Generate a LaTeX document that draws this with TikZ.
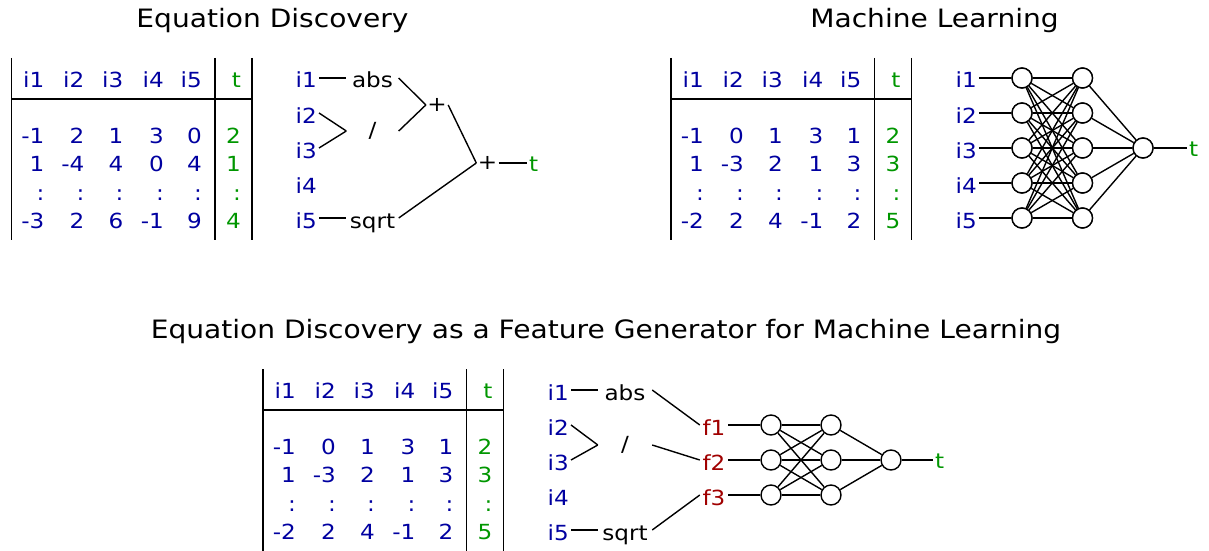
\documentclass[tikz,border=0pt]{standalone}
\usepackage{fontspec}
\setmainfont{DejaVu Sans}[FakeStretch=1.11]
\definecolor{inblue}{RGB}{0,0,160}
\definecolor{outgreen}{RGB}{0,150,0}
\definecolor{featred}{RGB}{160,0,0}
\newcommand{\txtfont}{\fontsize{20.8}{24}\selectfont}
\newcommand{\ttlfont}{\fontsize{25.3}{30}\selectfont}
\tikzset{
  rule/.style={line width=1.5pt},
  wire/.style={line width=1.4pt},
  cell/.style={anchor=base east, inner sep=0pt, font=\txtfont},
  lbl/.style={font=\txtfont, inner xsep=2pt, inner ysep=0pt, text height=20pt, text depth=0pt},
  inp/.style={lbl, anchor=east, text=inblue},
  outp/.style={lbl, anchor=west, text=outgreen, text height=16.5pt},
  op/.style={lbl, minimum width=52pt},
  feat/.style={lbl, minimum width=28pt, text=featred},
  sym/.style={font=\txtfont, inner sep=0pt, minimum width=22pt},
  neuron/.style={circle, draw, fill=white, line width=1.4pt, minimum size=20pt, inner sep=0pt},
  ttl/.style={font=\ttlfont, anchor=base, inner sep=0pt}
}
% data table: #1 name prefix, #2 rows (header first); #3 bottom of the rules
\newcommand{\drawdatatable}[3]{%
  \foreach \row [count=\r] in {#2} {
    \pgfmathsetmacro\by{{87,143,171.5,200,228.5}[\r-1]}
    \foreach \v [count=\c] in \row {
      \pgfmathsetmacro\bx{{44.5,84.5,123.5,164,202,241}[\c-1]}
      \ifnum\c=6 \def\cc{outgreen}\else\def\cc{inblue}\fi
      \node[cell, text=\cc] (#1-\r-\c) at (\bx,\by) {\v};
    }
  }
  \draw[rule] (11.7,58) -- (11.7,#3);
  \draw[rule] (215,58) -- (215,#3);
  \draw[rule] (252,58) -- (252,#3);
  \draw[rule] (11.7,99) -- (252,99);
}
\begin{document}
\begin{tikzpicture}[x=1pt, y=-1pt]
\useasboundingbox (0,0) rectangle (1209,551);

% ---------- Equation discovery ----------
\node[ttl] (title1) at (272.5,28) {Equation Discovery};
\drawdatatable{ta}{{i1,i2,i3,i4,i5,t},{-1,2,1,3,0,2},{1,-4,4,0,4,1},{:,:,:,:,:,:},{-3,2,6,-1,9,4}}{240}

\node[inp] (ea1) at (319,78) {i1};
\node[inp] (ea2) at (319,113) {i2};
\node[inp] (ea3) at (319,148) {i3};
\node[inp] (ea4) at (319,183) {i4};
\node[inp] (ea5) at (319,218) {i5};
\node[op] (eabs) at (372.5,78) {abs};
\node[sym, minimum width=52pt] (ediv) at (372.5,131) {/};
\node[op] (esqrt) at (372.5,218) {sqrt};
\node[sym] (eplus1) at (437,105) {+};
\node[sym] (eplus2) at (487.5,163) {+};
\node[outp] (et) at (527,163) {t};
\draw[wire] (ea1.east) -- (eabs.west);
\draw[wire] (ea2.east) -- (ediv.west);
\draw[wire] (ea3.east) -- (ediv.west);
\draw[wire] (ea5.east) -- (esqrt.west);
\draw[wire] (eabs.east) -- (eplus1.west);
\draw[wire] (ediv.east) -- (eplus1.west);
\draw[wire] (eplus1.east) -- (eplus2.west);
\draw[wire] (esqrt.east) -- (eplus2.west);
\draw[wire] (eplus2.east) -- (et.west);

% ---------- Machine learning ----------
\node[ttl] (title2) at (934.5,28) {Machine Learning};
\begin{scope}[shift={(659.5,0)}]
\drawdatatable{tb}{{i1,i2,i3,i4,i5,t},{-1,0,1,3,1,2},{1,-3,2,1,3,3},{:,:,:,:,:,:},{-2,2,4,-1,2,5}}{240}
\end{scope}

\foreach \k/\y in {1/78,2/113,3/148,4/183,5/218} {
  \node[inp] (ma\k) at (979,\y) {i\k};
  \node[neuron] (mh\k) at (1022,\y) {};
  \node[neuron] (mg\k) at (1082.5,\y) {};
}
\node[neuron] (mo) at (1143,148) {};
\node[outp] (mt) at (1187,148) {t};
\foreach \j in {1,...,5} {
  \draw[wire] (ma\j.east) -- (mh\j);
  \foreach \k in {1,...,5} { \draw[wire] (mh\j) -- (mg\k); }
  \draw[wire] (mg\j) -- (mo);
}
\draw[wire] (mo) -- (mt.west);
\foreach \j in {1,...,5} {
  \node[neuron] at (mh\j) {};
  \node[neuron] at (mg\j) {};
}
\node[neuron] at (mo) {};

% ---------- Combined pipeline ----------
\node[ttl] (title3) at (606,338) {Equation Discovery as a Feature Generator for Machine Learning};
\begin{scope}[shift={(251.5,311)}]
\drawdatatable{tc}{{i1,i2,i3,i4,i5,t},{-1,0,1,3,1,2},{1,-3,2,1,3,3},{:,:,:,:,:,:},{-2,2,4,-1,2,5}}{245}
\end{scope}

\node[inp] (ca1) at (571,390) {i1};
\node[inp] (ca2) at (571,425) {i2};
\node[inp] (ca3) at (571,460) {i3};
\node[inp] (ca4) at (571,495) {i4};
\node[inp] (ca5) at (571,530) {i5};
\node[op, minimum width=54pt] (cabs) at (625,390) {abs};
\node[sym, minimum width=54pt] (cdiv) at (625,445) {/};
\node[op, minimum width=54pt] (csqrt) at (625,530) {sqrt};
\node[feat] (cf1) at (714,425) {f1};
\node[feat] (cf2) at (714,460) {f2};
\node[feat] (cf3) at (714,495) {f3};
\draw[wire] (ca1.east) -- (cabs.west);
\draw[wire] (ca2.east) -- (cdiv.west);
\draw[wire] (ca3.east) -- (cdiv.west);
\draw[wire] (ca5.east) -- (csqrt.west);
\draw[wire] (cabs.east) -- (cf1.west);
\draw[wire] (cdiv.east) -- (cf2.west);
\draw[wire] (csqrt.east) -- (cf3.west);
\foreach \k/\y in {1/425,2/460,3/495} {
  \node[neuron] (ch\k) at (771,\y) {};
  \node[neuron] (cg\k) at (831,\y) {};
}
\node[neuron] (co) at (891,460) {};
\node[outp] (ct) at (933,460) {t};
\foreach \j in {1,2,3} {
  \draw[wire] (cf\j.east) -- (ch\j);
  \foreach \k in {1,2,3} { \draw[wire] (ch\j) -- (cg\k); }
  \draw[wire] (cg\j) -- (co);
}
\draw[wire] (co) -- (ct.west);
\end{tikzpicture}
\end{document}
